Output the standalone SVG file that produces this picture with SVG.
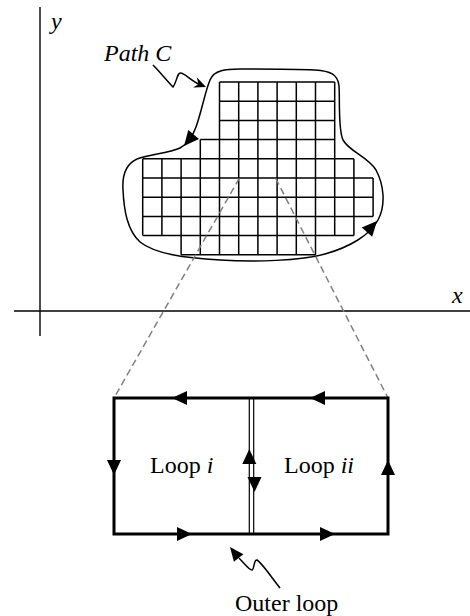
<svg xmlns="http://www.w3.org/2000/svg" width="470" height="616" viewBox="0 0 470 616">
  <style>
    .axis { stroke: #000; stroke-width: 1.4; fill: none; }
    .grid { stroke: #000; stroke-width: 1.5; fill: none; }
    .curve { stroke: #000; stroke-width: 1.5; fill: none; }
    .thick { stroke: #000; stroke-width: 3; fill: none; stroke-linecap: square; }
    .thin { stroke: #000; stroke-width: 1.2; fill: none; }
    .dash { stroke: #808080; stroke-width: 1.5; fill: none; stroke-dasharray: 7 4; }
    .head { fill: #000; stroke: none; }
    .lbl { font-family: "Liberation Serif", "Times New Roman", serif; font-size: 24px; fill: #000; }
    .it { font-style: italic; }
  </style>
  <defs>
    <!-- arrowheads with the tip at the origin, pointing along +x -->
    <path id="ah" d="M0,0 L-15,-7 L-15,7 Z"/>
    <path id="ahs" d="M0,0 L-14,-6 L-14,6 Z"/>
    <path id="barb" d="M0,0 L-12,-6 L-8,0 L-12,5 Z"/>
  </defs>

  <!-- coordinate axes -->
  <g id="axes">
    <line class="axis" x1="40" y1="7" x2="40" y2="336"/>
    <line class="axis" x1="14" y1="311" x2="470" y2="311"/>
    <text class="lbl it" x="51" y="29">y</text>
    <text class="lbl it" x="452" y="303">x</text>
  </g>

  <!-- region divided into small square cells -->
  <g id="grid">
    <path class="grid" d="
      M219.5,82 H334.7 M219.5,101.2 H334.7 M219.5,120.4 H334.7
      M200.3,139.6 H334.7 M142.7,158.8 H353.9 M142.7,178 H373.1
      M142.7,197.2 H373.1 M142.7,216.4 H373.1 M142.7,235.6 H353.9
      M181.1,254.8 H315.5
      M142.7,158.8 V235.6 M161.9,158.8 V235.6 M181.1,158.8 V254.8
      M200.3,139.6 V254.8
      M219.5,82 V254.8 M238.7,82 V254.8 M257.9,82 V254.8
      M277.1,82 V254.8 M296.3,82 V254.8 M315.5,82 V254.8
      M334.7,82 V235.6 M353.9,158.8 V235.6 M373.1,178 V216.4"/>
  </g>

  <!-- closed path C around the region -->
  <g id="path-c">
    <path class="curve" d="M240,69 C226,69 214,70 210,80 C205,92 202,110 196,127 C192,138 186,145 180,148 C170,153 150,154 137,159 C126,164 122,175 123,190 C124,210 127,230 140,242 C155,254 185,258 220,260 C255,262 300,261 325,254 C350,247 370,235 378,220 C386,205 384,185 376,170 C368,157 350,152 343,140 C338,130 340,100 339,86 C338,74 330,71 315,70 C290,69 260,69 240,69 Z"/>
    <use href="#ah" class="head" transform="translate(184,146) rotate(130)"/>
    <use href="#ah" class="head" transform="translate(377,221) rotate(-48)"/>
  </g>

  <!-- label for path C -->
  <g id="label-path-c">
    <text class="lbl it" x="104" y="61">Path C</text>
    <path class="curve" d="M153,65 C160,72 168,82 173,87 C177,82 177,72 181,73 C186,74 192,82 203,86"/>
    <use href="#barb" class="head" transform="translate(206,87) rotate(20)"/>
  </g>

  <!-- dashed projection lines to the enlarged view -->
  <g id="connectors">
    <line class="dash" x1="239.3" y1="178.3" x2="114" y2="398"/>
    <line class="dash" x1="275.7" y1="178.3" x2="388" y2="398"/>
  </g>

  <!-- enlarged pair of neighbouring loops -->
  <g id="loops">
    <rect class="thick" x="114" y="398" width="274" height="136"/>
    <line class="thin" x1="249.3" y1="399" x2="249.3" y2="533"/>
    <line class="thin" x1="253.7" y1="399" x2="253.7" y2="533"/>
    <use href="#ah" class="head" transform="translate(172,398) rotate(180)"/>
    <use href="#ah" class="head" transform="translate(310,398) rotate(180)"/>
    <use href="#ah" class="head" transform="translate(114,475) rotate(90)"/>
    <use href="#ah" class="head" transform="translate(388,460) rotate(-90)"/>
    <use href="#ah" class="head" transform="translate(192,534)"/>
    <use href="#ah" class="head" transform="translate(335,534)"/>
    <use href="#ah" class="head" transform="translate(249.3,449) rotate(-90)"/>
    <use href="#ah" class="head" transform="translate(254.5,492) rotate(90)"/>
  </g>

  <g id="label-loop-i">
    <text class="lbl" x="150" y="473">Loop <tspan class="it">i</tspan></text>
  </g>
  <g id="label-loop-ii">
    <text class="lbl" x="284" y="473">Loop <tspan class="it">ii</tspan></text>
  </g>

  <!-- label for the outer loop -->
  <g id="label-outer">
    <path class="curve" d="M280,588 C272,578 262,563 257,560 C254,559 254,570 252,570 C249,570 244,563 239,558"/>
    <use href="#ahs" class="head" transform="translate(230,547) rotate(-128)"/>
    <text class="lbl" x="235" y="611">Outer loop</text>
  </g>
</svg>
